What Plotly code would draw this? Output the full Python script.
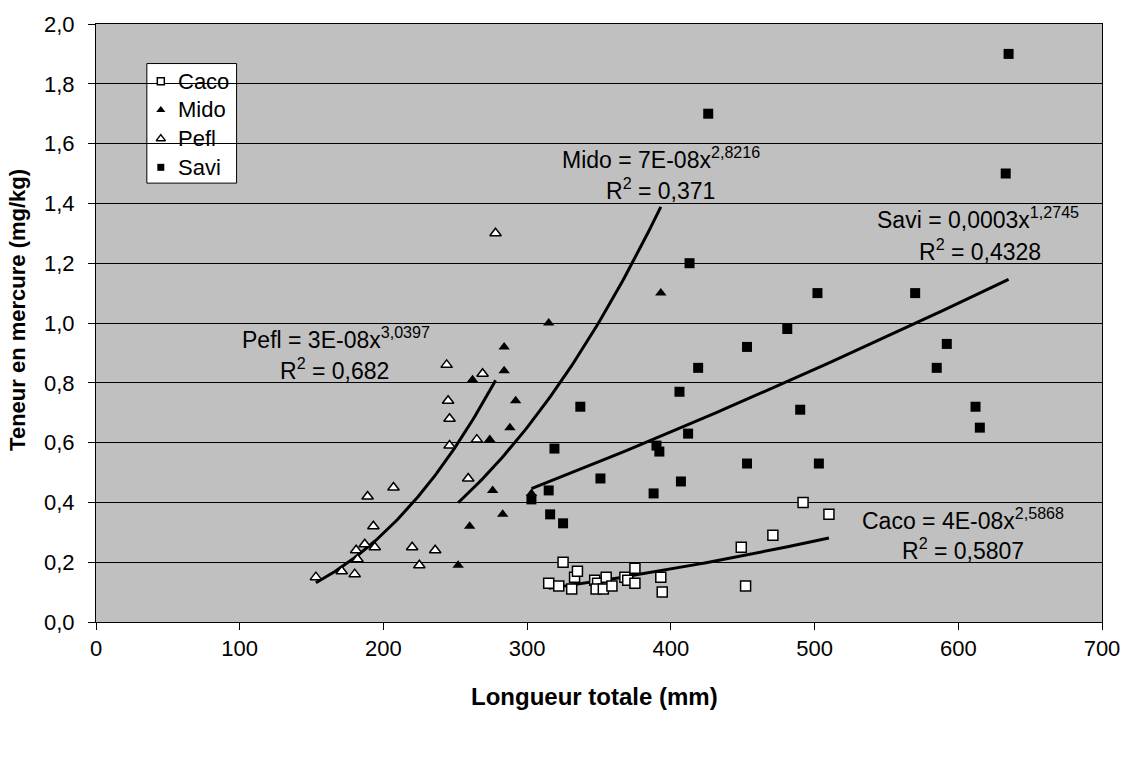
import numpy as np
import plotly.graph_objects as go

# Longueur totale (mm) et teneur en mercure (mg/kg) par espèce
caco_len = [315, 322, 325, 331, 333, 335, 347, 349, 348, 353, 355, 359, 368, 370,
            375, 375, 393, 394, 449, 452, 471, 492, 510]
caco_hg = [0.13, 0.12, 0.20, 0.11, 0.15, 0.17, 0.14, 0.13, 0.11, 0.11, 0.15, 0.12, 0.15, 0.14,
           0.18, 0.13, 0.15, 0.10, 0.25, 0.12, 0.29, 0.40, 0.36]

mido_len = [252, 260, 262, 274, 276, 283, 284, 284, 288, 292, 303, 315, 393]
mido_hg = [0.19, 0.32, 0.81, 0.61, 0.44, 0.36, 0.84, 0.92, 0.65, 0.74, 0.43, 1.00, 1.10]

pefl_len = [153, 171, 180, 181, 182, 187, 189, 193, 194, 207, 220, 225, 236, 244,
            245, 246, 246, 259, 265, 269, 278]
pefl_hg = [0.15, 0.17, 0.16, 0.24, 0.21, 0.26, 0.42, 0.32, 0.25, 0.45, 0.25, 0.19, 0.24, 0.86,
           0.74, 0.68, 0.59, 0.48, 0.61, 0.83, 1.30]

savi_len = [303, 315, 316, 319, 325, 337, 351, 388, 390, 392, 406, 407, 412, 413,
            419, 426, 453, 453, 481, 490, 502, 503, 570, 585, 592, 612, 615, 633, 635]
savi_hg = [0.41, 0.44, 0.36, 0.58, 0.33, 0.72, 0.48, 0.43, 0.59, 0.57, 0.77, 0.47, 0.63, 1.20,
           0.85, 1.70, 0.92, 0.53, 0.98, 0.71, 1.10, 0.53, 1.10, 0.85, 0.93, 0.72, 0.65, 1.50, 1.90]

# Equations des courbes de tendance (puissance) et leurs positions
eq_caco = ["Caco = 4E-08x<sup>2,5868</sup>", "R<sup>2</sup> = 0,5807"]
eq_mido = ["Mido = 7E-08x<sup>2,8216</sup>", "R<sup>2</sup> = 0,371"]
eq_pefl = ["Pefl = 3E-08x<sup>3,0397</sup>", "R<sup>2</sup> = 0,682"]
eq_savi = ["Savi = 0,0003x<sup>1,2745</sup>", "R<sup>2</sup> = 0,4328"]
eq_pos_caco = [(603, 0.345), (603, 0.245)]
eq_pos_mido = [(393, 1.551), (393, 1.449)]
eq_pos_pefl = [(167, 0.950), (166, 0.846)]
eq_pos_savi = [(614, 1.351), (615, 1.245)]

x_ticks = [0, 100, 200, 300, 400, 500, 600, 700]
y_ticks = [0.0, 0.2, 0.4, 0.6, 0.8, 1.0, 1.2, 1.4, 1.6, 1.8, 2.0]

FONT = "Arial, 'Liberation Sans', sans-serif"

# Géométrie de la figure (pixels)
W, H = 1132, 763
ML, MR, MT, MB = 96, 27, 17, 141
PW, PH = W - ML - MR, H - MT - MB


def px_x(px):
    return (px - ML) / PW


def px_y(py):
    return (H - MB - py) / PH


fig = go.Figure()

series = [
    ("Caco", caco_len, caco_hg, dict(symbol="square", size=10, color="white",
                                     line=dict(color="black", width=1.5))),
    ("Mido", mido_len, mido_hg, dict(symbol="triangle-up", size=10, color="black",
                                     line=dict(color="black", width=0))),
    ("Pefl", pefl_len, pefl_hg, dict(symbol="triangle-up", size=10, color="white",
                                     line=dict(color="black", width=1.5))),
    ("Savi", savi_len, savi_hg, dict(symbol="square", size=10, color="black",
                                     line=dict(color="black", width=0))),
]

# Courbes de tendance : ajustement y = a * x^b en log-log
for name, xs, ys, _ in series:
    lx = np.log(np.asarray(xs, dtype=float))
    ly = np.log(np.asarray(ys, dtype=float))
    b, ln_a = np.polyfit(lx, ly, 1)
    xf = np.linspace(min(xs), max(xs), 80)
    yf = np.exp(ln_a) * xf ** b
    fig.add_trace(go.Scatter(x=xf, y=yf, mode="lines", showlegend=False,
                             hoverinfo="skip", line=dict(color="black", width=3)))

for name, xs, ys, mk in series:
    fig.add_trace(go.Scatter(x=xs, y=ys, mode="markers", name=name, marker=mk,
                             showlegend=False))

# Légende encadrée (axes superposés en coordonnées 0..1 de la zone de tracé)
leg_rows_y = [75, 104, 133, 162]
leg_marker_x = 161
leg_text_x = 176
leg_box = (147, 57, 237, 178)
for (name, _, _, mk), ry in zip(series, leg_rows_y):
    small = dict(mk)
    small["size"] = 7 if mk["symbol"] == "square" else 8
    fig.add_trace(go.Scatter(x=[px_x(leg_marker_x)], y=[px_y(ry)], mode="markers",
                             marker=small, xaxis="x2", yaxis="y2",
                             showlegend=False, hoverinfo="skip"))

shapes = [dict(type="rect", xref="paper", yref="paper",
               x0=px_x(leg_box[0]), x1=px_x(leg_box[2]),
               y0=px_y(leg_box[3]), y1=px_y(leg_box[1]),
               fillcolor="white", line=dict(color="black", width=1), layer="between")]

annotations = []
for (name, _, _, _), ry in zip(series, leg_rows_y):
    annotations.append(dict(x=px_x(leg_text_x), y=px_y(ry), xref="paper", yref="paper",
                            text=name, showarrow=False, xanchor="left", yanchor="middle",
                            font=dict(family=FONT, size=22, color="black")))

for lines, pos in [(eq_pefl, eq_pos_pefl), (eq_mido, eq_pos_mido),
                   (eq_savi, eq_pos_savi), (eq_caco, eq_pos_caco)]:
    for txt, (ax, ay) in zip(lines, pos):
        annotations.append(dict(x=ax, y=ay, xref="x", yref="y", text=txt,
                                showarrow=False, xanchor="center", yanchor="middle",
                                font=dict(family=FONT, size=23, color="black")))

annotations.append(dict(x=px_x(596), y=px_y(697), xref="paper", yref="paper",
                        text="<b>Longueur totale (mm)</b>", showarrow=False,
                        xanchor="center", yanchor="middle",
                        font=dict(family=FONT, size=24, color="black")))
annotations.append(dict(x=px_x(17), y=px_y(306), xref="paper", yref="paper",
                        text="<b>Teneur en mercure (mg/kg)</b>", showarrow=False,
                        textangle=-90, xanchor="center", yanchor="middle",
                        font=dict(family=FONT, size=22, color="black")))

fig.update_layout(
    width=W, height=H,
    margin=dict(l=ML, r=MR, t=MT, b=MB),
    paper_bgcolor="white",
    plot_bgcolor="#C0C0C0",
    separators=", ",
    font=dict(family=FONT, size=22, color="black"),
    showlegend=False,
    shapes=shapes,
    annotations=annotations,
    xaxis2=dict(overlaying="x", range=[0, 1], visible=False, fixedrange=True),
    yaxis2=dict(overlaying="y", range=[0, 1], visible=False, fixedrange=True),
)

fig.layout.xaxis.update(range=[0, 700], tickvals=x_ticks, showgrid=False, zeroline=False,
                        showline=True, linecolor="black", linewidth=1, mirror=True,
                        ticks="outside", ticklen=7, tickcolor="black",
                        tickfont=dict(family=FONT, size=22, color="black"))
fig.layout.yaxis.update(range=[0, 2.0], tickvals=y_ticks, tickformat=".1f",
                        showgrid=True, gridcolor="black", gridwidth=1, zeroline=False,
                        showline=True, linecolor="black", linewidth=1, mirror=True,
                        ticks="outside", ticklen=7, tickcolor="black", ticklabelstandoff=9,
                        tickfont=dict(family=FONT, size=22, color="black"))

fig.write_html("out.html")
